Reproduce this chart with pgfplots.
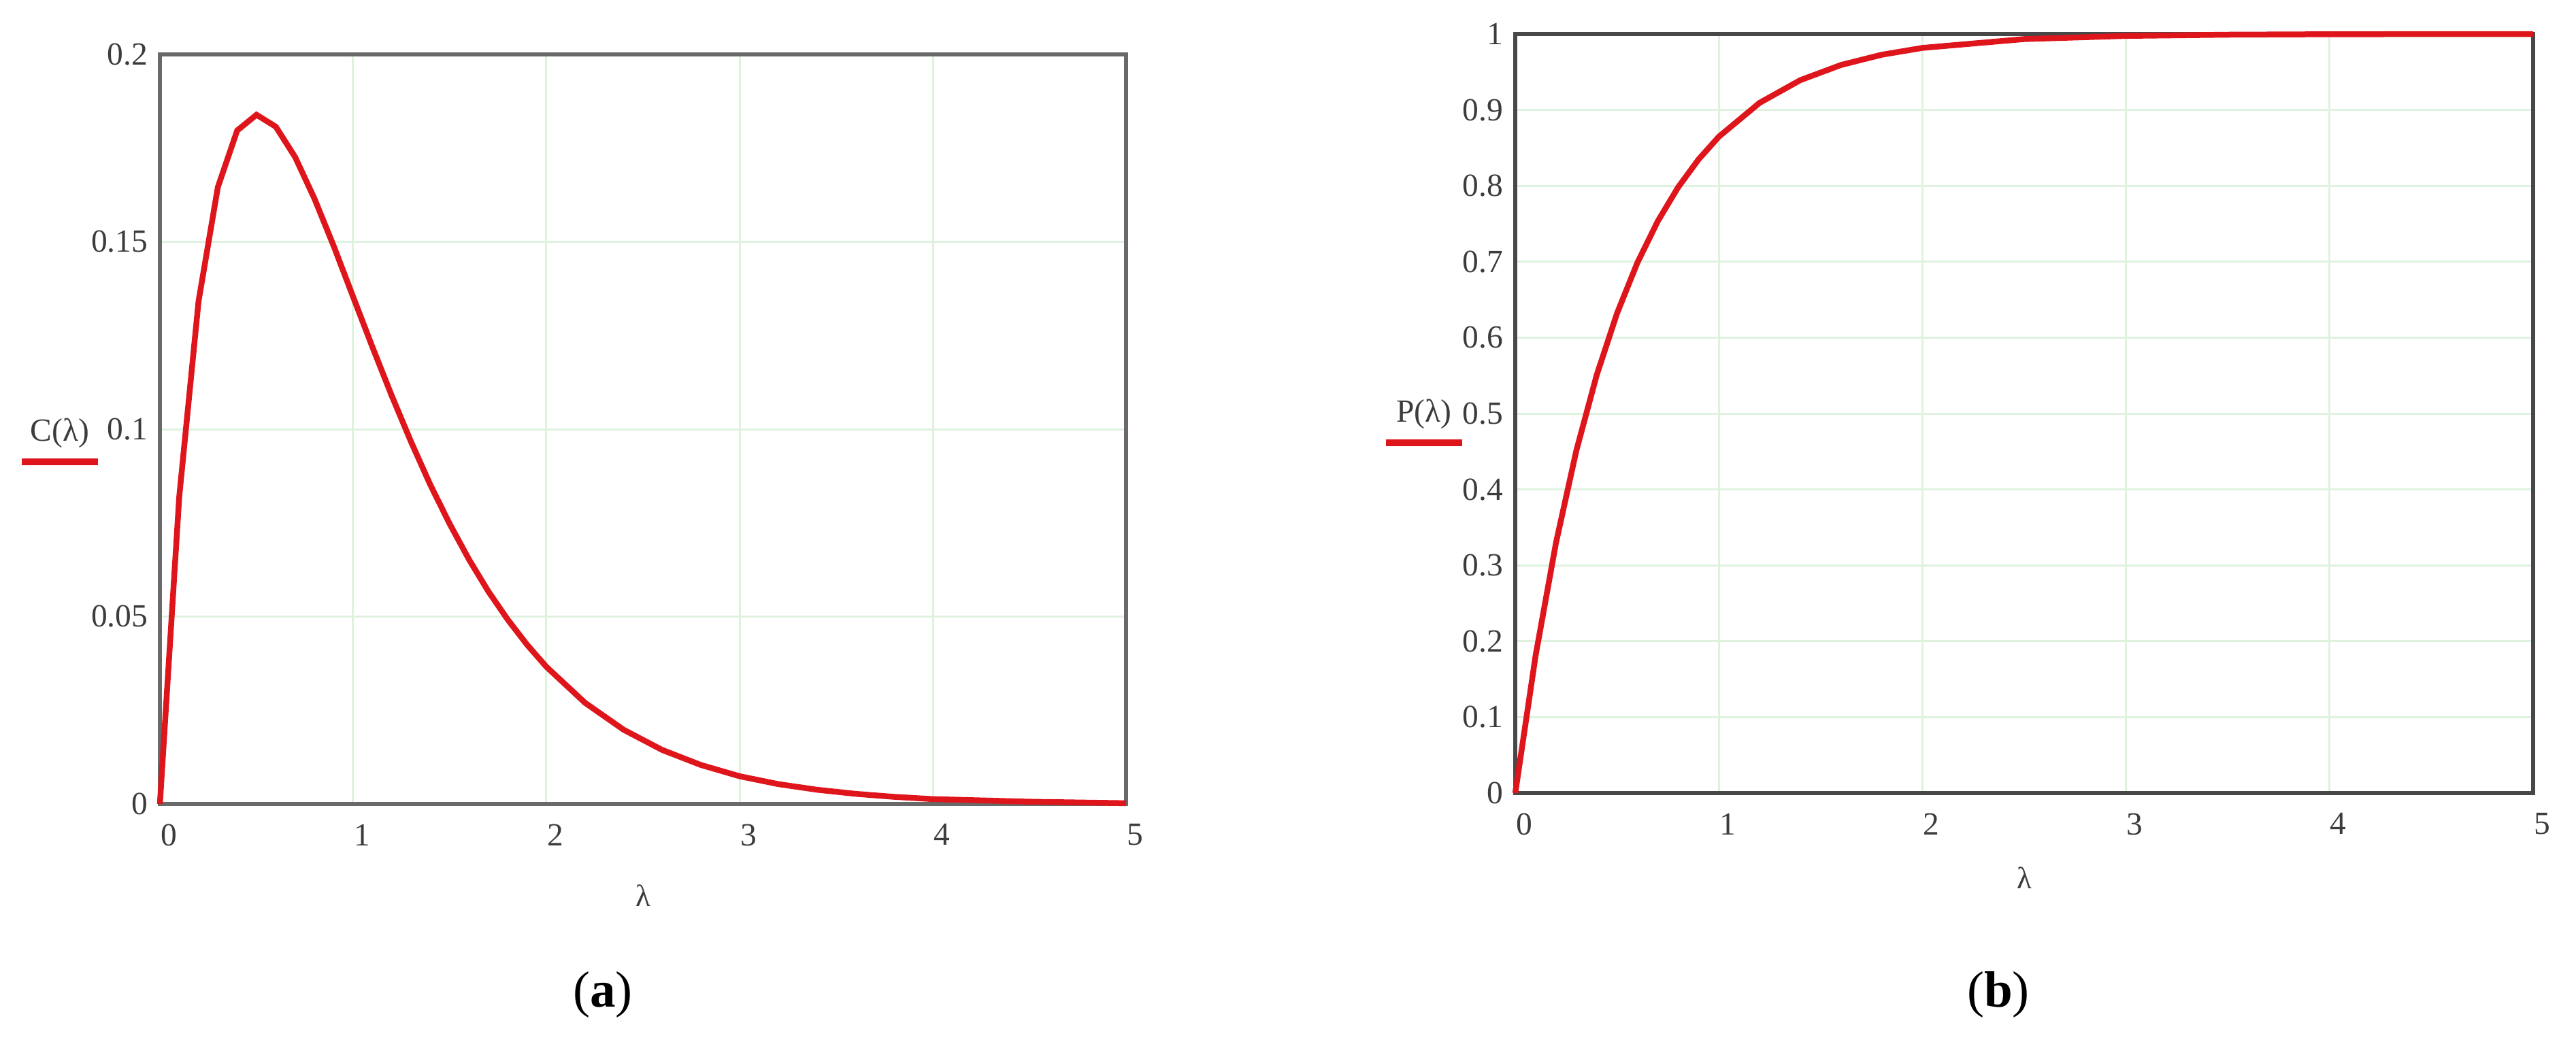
\documentclass[border=0pt]{standalone}
\usepackage{pgfplots}
\pgfplotsset{compat=1.18}
\usepackage{fontspec}
\setmainfont{Liberation Serif}

\definecolor{curve}{RGB}{222,22,28}
\definecolor{gridg}{RGB}{222,242,222}
\definecolor{frameA}{RGB}{105,105,105}
\definecolor{frameB}{RGB}{72,72,72}
\definecolor{lab}{RGB}{60,60,60}

\pgfplotsset{mcad/.style={
    scale only axis, anchor=south west,
    xmin=0, xmax=5, xtick={0,1,2,3,4,5},
    grid=major, major grid style={gridg, line width=0.6pt},
    major tick length=0pt,
    tick label style={font=\fontsize{9.5}{10}\selectfont, text=lab},
    xticklabel style={yshift=-2.4pt, xshift=2.6pt},
    /pgf/number format/assume math mode=true,
    /pgf/number format/fixed, /pgf/number format/precision=2,
    xlabel={λ}, xlabel style={font=\fontsize{9}{10}\selectfont, text=lab},
    ylabel style={rotate=-90, anchor=center, font=\fontsize{9.5}{10}\selectfont, text=lab},
    clip=false}}

\newcommand{\tracelabel}[1]{\begin{tabular}{@{}c@{}}#1\\[-3pt]\textcolor{curve}{\rule{22.5pt}{2pt}}\end{tabular}}

\begin{document}
\begin{tikzpicture}
\useasboundingbox (0,0) rectangle (757.2pt,306.2pt);

% (a) C(lambda)
\begin{axis}[mcad, at={(47pt,69.8pt)}, width=284pt, height=220.4pt,
    axis line style={frameA, line width=1.2pt},
    ymin=0, ymax=0.2, ytick={0,0.05,0.1,0.15,0.2},
    ylabel={\tracelabel{C(λ)}},
    ylabel style={at={(axis description cs:-0.1035,0.477)}},
    xlabel style={at={(axis description cs:0.5,0)}, yshift=-27pt, anchor=center}]
  \addplot[curve, line width=1.7pt] coordinates {
    (0,0) (0.1,0.0819) (0.2,0.1341) (0.3,0.1646) (0.4,0.1797) (0.5,0.1839)
    (0.6,0.1807) (0.7,0.1726) (0.8,0.1615) (0.9,0.1488) (1.0,0.1353)
    (1.1,0.1219) (1.2,0.1089) (1.3,0.0966) (1.4,0.0851) (1.5,0.0747)
    (1.6,0.0652) (1.7,0.0567) (1.8,0.0492) (1.9,0.0425) (2.0,0.0366)
    (2.2,0.0270) (2.4,0.0198) (2.6,0.0144) (2.8,0.0104) (3.0,0.0074)
    (3.2,0.0053) (3.4,0.0038) (3.6,0.0027) (3.8,0.0019) (4.0,0.0013)
    (4.5,0.0006) (5.0,0.0002) };
\end{axis}

% (b) P(lambda)
\begin{axis}[mcad, at={(445.4pt,73pt)}, width=299.2pt, height=223.2pt,
    axis line style={frameB, line width=1.2pt},
    ymin=0, ymax=1, ytick={0,0.1,...,1},
    ylabel={\tracelabel{P(λ)}},
    ylabel style={at={(axis description cs:-0.0896,0.482)}},
    xlabel style={at={(axis description cs:0.5,0)}, yshift=-25pt, anchor=center}]
  \addplot[curve, line width=1.7pt] coordinates {
    (0,0) (0.1,0.1813) (0.2,0.3297) (0.3,0.4512) (0.4,0.5507) (0.5,0.6321)
    (0.6,0.6988) (0.7,0.7534) (0.8,0.7981) (0.9,0.8347) (1.0,0.8647)
    (1.2,0.9093) (1.4,0.9392) (1.6,0.9592) (1.8,0.9727) (2.0,0.9817)
    (2.5,0.9933) (3.0,0.9975) (3.5,0.9991) (4.0,0.9997) (5.0,1.0) };
\end{axis}

\node[font=\fontsize{15}{18}\selectfont] at (177.2pt,13.8pt) {(\textbf{a})};
\node[font=\fontsize{15}{18}\selectfont] at (587.4pt,13.8pt) {(\textbf{b})};
\end{tikzpicture}
\end{document}
